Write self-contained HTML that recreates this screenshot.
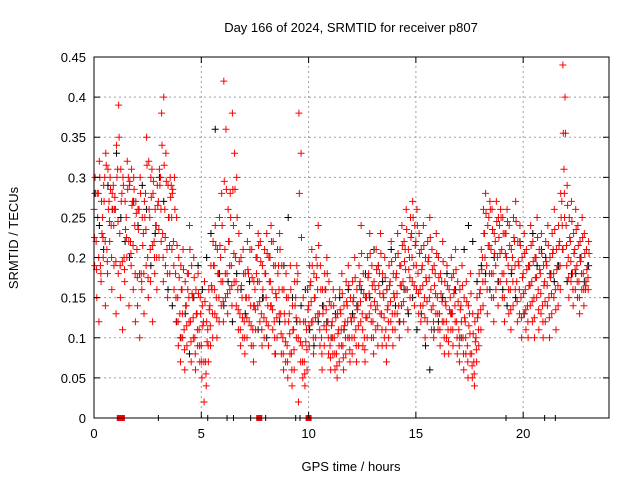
<!DOCTYPE html>
<html><head><meta charset="utf-8"><style>
body{margin:0;background:#fff;}
svg{display:block;font-family:"Liberation Sans",sans-serif;}
</style></head><body>
<svg id="chart" width="640" height="480" viewBox="0 0 640 480">
<rect width="640" height="480" fill="#fff"/>
<text x="351" y="32" font-size="13" text-anchor="middle">Day 166 of 2024, SRMTID for receiver p807</text>
<text x="351" y="471" font-size="13" text-anchor="middle">GPS time / hours</text>
<text x="18" y="238" font-size="13" text-anchor="middle" transform="rotate(-90 18 238)">SRMTID / TECUs</text>
<g id="grid"></g>
<g id="marks"></g>
<rect x="94" y="57" width="515" height="361" fill="none" stroke="#000" stroke-width="1"/>
<g id="axes"></g>
</svg>
<script>
const xTicks=[0,5,10,15,20];
const yTicks=[0,0.05,0.1,0.15,0.2,0.25,0.3,0.35,0.4,0.45];
const yTickLabels=["0","0.05","0.1","0.15","0.2","0.25","0.3","0.35","0.4","0.45"];
const timeStep=0.1;
const redMid=[.26,.22,.28,.19,.25,.30,.21,.27,.24,.29,
.26,.31,.23,.28,.20,.25,.30,.22,.27,.24,
.21,.26,.18,.23,.28,.20,.25,.31,.22,.24,
.27,.30,.23,.26,.21,.25,.29,.22,.18,.15,
.13,.16,.11,.14,.18,.12,.15,.10,.13,.11,
.09,.12,.07,.11,.14,.16,.19,.15,.18,.20,
.17,.21,.18,.22,.19,.24,.20,.16,.13,.15,
.12,.15,.18,.14,.11,.16,.20,.17,.13,.15,
.18,.14,.20,.16,.12,.15,.19,.13,.10,.12,
.09,.13,.08,.11,.15,.18,.12,.09,.07,.11,
.14,.17,.12,.15,.19,.13,.10,.14,.16,.12,
.09,.12,.10,.08,.11,.13,.09,.12,.14,.10,
.12,.15,.11,.14,.17,.13,.10,.15,.18,.14,
.12,.16,.14,.18,.13,.15,.11,.14,.17,.13,
.15,.18,.14,.19,.17,.21,.16,.20,.23,.19,
.22,.18,.16,.19,.15,.17,.20,.16,.14,.18,
.15,.13,.17,.12,.14,.11,.15,.13,.16,.12,
.11,.14,.10,.12,.09,.13,.08,.07,.10,.13,
.16,.20,.23,.19,.25,.21,.18,.22,.20,.24,
.21,.18,.23,.19,.16,.20,.22,.17,.19,.15,
.18,.16,.14,.19,.17,.15,.20,.16,.18,.14,
.17,.19,.15,.18,.21,.16,.19,.22,.27,.31,
.24,.20,.22,.18,.21,.19,.17,.20,.18,.16,.19];
const redHi=[.30,.28,.32,.27,.29,.33,.31,.30,.28,.26,
.34,.39,.31,.30,.27,.32,.29,.31,.30,.27,
.26,.30,.25,.27,.35,.32,.30,.28,.26,.29,
.31,.38,.40,.33,.29,.30,.28,.30,.25,.20,
.19,.21,.17,.18,.24,.19,.20,.16,.18,.15,
.14,.17,.12,.16,.19,.22,.24,.21,.25,.28,
.42,.36,.26,.28,.38,.33,.30,.23,.20,.21,
.18,.22,.24,.21,.17,.20,.23,.22,.19,.21,
.23,.20,.24,.22,.19,.21,.23,.19,.16,.18,
.15,.19,.14,.17,.19,.38,.33,.15,.12,.16,
.19,.21,.18,.20,.24,.19,.16,.18,.20,.17,
.14,.16,.15,.13,.16,.18,.14,.17,.19,.15,
.17,.20,.16,.19,.24,.18,.15,.20,.23,.19,
.17,.21,.19,.23,.18,.20,.16,.19,.22,.18,
.20,.23,.19,.24,.22,.26,.21,.25,.27,.24,
.26,.23,.21,.24,.20,.22,.25,.21,.19,.23,
.20,.18,.22,.17,.19,.16,.20,.18,.21,.17,
.16,.19,.15,.17,.14,.18,.13,.12,.15,.18,
.21,.26,.28,.24,.27,.26,.23,.27,.25,.26,
.25,.23,.26,.24,.21,.25,.27,.22,.24,.20,
.23,.21,.19,.24,.22,.20,.25,.21,.23,.19,
.22,.24,.20,.23,.26,.21,.24,.28,.44,.40,
.29,.25,.27,.23,.26,.24,.22,.25,.23,.21,.22];
const redLo=[.19,.15,.12,.17,.20,.14,.18,.22,.16,.19,
.13,.18,.15,.11,.17,.20,.14,.19,.16,.12,
.14,.10,.16,.13,.19,.15,.17,.12,.18,.16,
.20,.22,.17,.19,.15,.18,.21,.16,.12,.09,
.07,.10,.06,.09,.12,.07,.10,.06,.09,.07,
.05,.02,.04,.07,.09,.10,.13,.10,.12,.14,
.12,.15,.13,.16,.14,.17,.14,.11,.09,.10,
.08,.10,.12,.09,.07,.11,.14,.12,.09,.10,
.12,.09,.14,.11,.08,.10,.13,.08,.06,.07,
.05,.08,.04,.06,.10,.02,.07,.05,.04,.06,
.09,.12,.08,.10,.13,.09,.06,.09,.11,.08,
.06,.08,.06,.05,.07,.09,.06,.08,.10,.07,
.08,.10,.07,.09,.12,.09,.07,.10,.13,.10,
.08,.11,.09,.13,.09,.10,.07,.10,.12,.09,
.11,.13,.10,.14,.12,.16,.11,.15,.17,.14,
.16,.13,.12,.14,.10,.12,.15,.11,.10,.13,
.11,.09,.12,.08,.10,.08,.11,.09,.12,.08,
.07,.10,.06,.08,.05,.08,.05,.04,.07,.09,
.11,.14,.17,.13,.18,.15,.12,.16,.14,.17,
.15,.12,.17,.13,.11,.14,.16,.12,.13,.10,
.13,.11,.10,.14,.12,.10,.15,.11,.13,.10,
.12,.14,.10,.13,.15,.11,.14,.16,.21,.25,
.19,.15,.17,.14,.16,.15,.13,.16,.14,.17,.16];
const blackStep=0.2;
const blackVals=[.28,.24,.21,.29,.26,.33,.25,.22,.20,.27,
.24,.29,.26,.19,.23,.30,.27,.16,.14,.12,
.10,.13,.08,.15,.19,.16,.20,.23,.36,.18,
.14,.17,.12,.18,.16,.13,.17,.14,.11,.15,
.10,.14,.08,.12,.19,.25,.15,.12,.14,.16,
.11,.09,.12,.14,.12,.10,.13,.15,.11,.16,
.13,.14,.16,.18,.15,.21,.19,.17,.16,.21,
.14,.12,.16,.13,.15,.11,.13,.09,.06,.11,
.12,.15,.18,.13,.16,.10,.21,.24,.22,.17,
.19,.18,.16,.20,.17,.16,.14,.18,.15,.22,
.13,.19,.23,.19,.21,.20,.18,.17,.19,.21,.17,.18,.18,.20,.17,.19];
const zeroTimes=[1.2,1.3,1.4,3.0,5.3,6.2,6.5,7.3,7.7,8.0,9.4,9.6,10.0,10.1,19.2,21.0,21.5];
const zeroRed=[1.2,1.3,7.7,10.0];

const X0=94,X1=609,Y0=418,Y1=57;
const xs=t=>X0+t*(X1-X0)/24;
const ys=v=>Y0-v*(Y0-Y1)/0.45;
const NS="http://www.w3.org/2000/svg";
const grid=document.getElementById('grid'),marks=document.getElementById('marks'),axes=document.getElementById('axes');
function mk(tag,attrs,parent){const e=document.createElementNS(NS,tag);for(const k in attrs)e.setAttribute(k,attrs[k]);parent.appendChild(e);return e;}
yTicks.forEach((v,i)=>{
  const y=ys(v);
  if(i>0&&i<yTicks.length-1){const g=mk('line',{x1:X0,x2:X1,y1:y,y2:y,stroke:'#a0a0a0','stroke-dasharray':'2,3'},grid);
  
  }
  mk('line',{x1:X0,x2:X0+6,y1:y,y2:y,stroke:'#000'},axes);
  mk('line',{x1:X1,x2:X1-6,y1:y,y2:y,stroke:'#000'},axes);
  const t=mk('text',{x:X0-8,y:y+5,'font-size':13,'text-anchor':'end'},axes);
  t.textContent=yTickLabels[i];
  
  
});
xTicks.forEach(v=>{
  const x=xs(v);
  if(v>0){const g=mk('line',{x1:x,x2:x,y1:Y0,y2:Y1,stroke:'#a0a0a0','stroke-dasharray':'2,3'},grid);
  
  }
  mk('line',{x1:x,x2:x,y1:Y0,y2:Y0-6,stroke:'#000'},axes);
  mk('line',{x1:x,x2:x,y1:Y1,y2:Y1+6,stroke:'#000'},axes);
  const t=mk('text',{x:x,y:Y0+20,'font-size':13,'text-anchor':'middle'},axes);
  t.textContent=String(v);
  
  
});
function plus(t,v,color,name){
  const x=xs(t),y=ys(v);
  const p=mk('path',{d:`M${x-3.5},${y}h7M${x},${y-3.5}v7`,stroke:color,'stroke-width':1,fill:'none'},marks);
  
  
}
blackVals.forEach((v,i)=>plus(i*blackStep+0.05,v,'#000','black-point'));
redMid.forEach((v,i)=>plus(i*timeStep,v,'#f00','red-point'));
redHi.forEach((v,i)=>plus(i*timeStep+0.05,v,'#f00','red-point'));
redLo.forEach((v,i)=>plus(i*timeStep+0.03,v,'#f00','red-point'));
redMid.forEach((v,i)=>plus(i*timeStep+0.07,(v+redHi[i])/2,'#f00','red-point'));
redMid.forEach((v,i)=>plus(i*timeStep+0.02,(v+redLo[i])/2,'#f00','red-point'));
zeroTimes.forEach(t=>{const x=xs(t);const p=mk('path',{d:`M${x},${Y0-3}v6`,stroke:'#000'},marks);

});
zeroRed.forEach(t=>{const x=xs(t);const p=mk('rect',{x:x-3,y:Y0-3,width:6,height:6,fill:'#f00'},marks);

});
</script>
</body></html>
